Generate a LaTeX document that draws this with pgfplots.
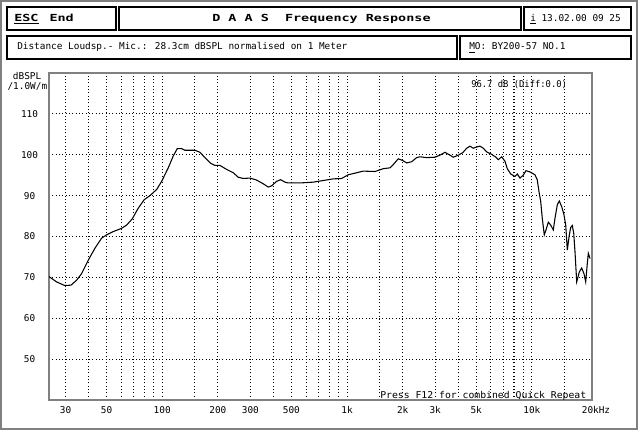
\documentclass[border=0pt]{standalone}
\usepackage{pgfplots}
\pgfplotsset{compat=1.18}
\usepackage{graphicx}
\usepackage{fontspec}
\setmainfont{DejaVu Sans Mono}
\newfontfamily\rmono{DejaVu Sans Mono}
\newcommand\rf{\rmono\fontsize{7.05}{8}\selectfont}
\newcommand\bff{\rmono\bfseries\fontsize{7.3}{8}\selectfont}

\pgfplotstableread{
f db
24.4 70.2
26.8 68.9
29.7 68.0
32.1 68.1
34.4 69.3
36.6 70.9
39.8 74.2
43.2 77.1
47.0 79.6
50.0 80.4
54.3 81.2
60.3 82.0
64.2 82.8
68.8 84.3
74.1 86.9
79.9 89.0
85.8 90.0
93.3 91.5
99.3 93.5
107.8 96.8
114.7 99.7
120.6 101.5
127.4 101.5
132.7 101.1
150.3 101.1
160.0 100.6
170.2 99.3
182.8 97.9
192.9 97.4
205.2 97.4
223.1 96.4
242.3 95.6
257.8 94.5
274.4 94.2
298.4 94.3
324.3 93.8
352.0 92.9
374.6 92.1
390.8 92.4
415.9 93.5
437.2 93.9
461.3 93.3
480.6 93.1
556.2 93.1
656.3 93.3
743.2 93.7
842 94.1
935 94.2
1015 95.1
1127 95.6
1224 96.0
1416 95.9
1571 96.6
1707 96.8
1778 97.6
1892 99.0
2000 98.6
2102 98.0
2237 98.3
2380 99.3
2480 99.5
2697 99.3
2990 99.4
3182 99.9
3387 100.6
3605 99.9
3756 99.4
3997 99.9
4223 100.5
4439 101.6
4624 102.1
4819 101.6
5027 101.9
5239 102.1
5458 101.6
5694 100.7
6060 100.1
6393 99.4
6579 98.8
6864 99.5
7152 98.4
7361 96.6
7680 95.3
8100 94.7
8337 95.3
8622 94.3
8985 95.0
9290 96.1
9766 95.8
10390 95.1
10690 93.9
10960 90.6
11160 88.6
11380 84.5
11670 80.4
11920 81.6
12270 83.5
12640 82.8
13060 81.6
13340 84.5
13730 87.8
14070 88.7
14500 87.3
14920 85.3
15240 82.8
15550 76.7
15940 80.4
16220 82.2
16540 82.7
16840 80.8
17110 76.3
17480 68.9
18050 71.3
18600 72.3
19140 70.9
19550 68.9
19950 73.4
20200 75.9
20630 74.6
}\resp

\begin{document}
\begin{tikzpicture}
\begin{scope}[x=0.75pt,y=-0.75pt]
\useasboundingbox (0,0) rectangle (640,431);
\fill[white] (0,0) rectangle (640,431);
\end{scope}

\begin{axis}[
  at={(36.75pt,-300pt)}, anchor=south west,
  width=407.25pt, height=245.25pt, scale only axis,
  xmode=log, xmin=24.4, xmax=21150, ymin=40, ymax=120,
  axis line style={black!50, line width=1.5pt},
  xtick={30,50,100,200,300,500,1000,2000,3000,5000,10000,20000},
  xticklabels={\mbox{30},\mbox{50},\mbox{100},\mbox{200},\mbox{300},\mbox{500},\mbox{1k},\mbox{2k},\mbox{3k},\mbox{5k},\mbox{10k},\mbox{20\rlap{kHz}}},
  minor xtick={30,40,50,60,70,80,90,100,150,200,300,400,500,600,700,800,900,1000,1500,2000,3000,4000,5000,6000,7000,8000,9000,10000,15000},
  xmajorgrids=false, xminorgrids=true,
  ytick={50,60,70,80,90,100,110},
  yticklabels={\mbox{50},\mbox{60},\mbox{70},\mbox{80},\mbox{90},\mbox{100},\mbox{110}},
  ymajorgrids=true,
  major tick length=0pt, minor tick length=0pt,
  grid style={black, line width=0.8pt, dash pattern=on 0.8pt off 1.7pt},
  minor grid style={black, line width=0.8pt, dash pattern=on 0.8pt off 1.7pt},
  xticklabel style={font=\rf, anchor=center, yshift=-7.3pt, inner sep=0pt},
  yticklabel style={font=\rf, anchor=center, xshift=-14.6pt, inner sep=0pt},
]
\addplot[black, line width=0.8pt, mark=none] table[x=f, y=db] {\resp};
\end{axis}

\begin{scope}[x=0.75pt,y=-0.75pt]
% outer frame
\draw[black!50, line width=1.5pt] (1,1) rectangle (637,429);
% header boxes
\draw[black, line width=1.5pt] (7,7) rectangle (116,30);
\draw[black, line width=1.5pt] (119,7) rectangle (521,30);
\draw[black, line width=1.5pt] (524,7) rectangle (631,30);
\draw[black, line width=1.5pt] (7,36) rectangle (457,59);
\draw[black, line width=1.5pt] (460,36) rectangle (631,59);
% header texts
\node[anchor=base west, inner sep=0pt] at (14,21.5) {\bff\scalebox{1.38}[1]{\underline{ESC}}};
\node[anchor=base west, inner sep=0pt] at (49.3,21.5) {\bff\scalebox{1.38}[1]{End}};
\node[anchor=base west, inner sep=0pt] at (212,21.5) {\bff\scalebox{1.38}[1]{D A A S~~Frequency Response}};
\node[anchor=base west, inner sep=0pt] at (530,21.7) {\rf\underline{i} 13.02.00 09 25};
\node[anchor=base west, inner sep=0pt] at (17,50) {\rf Distance Loudsp.- Mic.: 28.3cm dBSPL normalised on 1 Meter};
\node[anchor=base west, inner sep=0pt] at (469,50) {\rf\underline{M}O: BY200-57 NO.1};
% axis title
\node[anchor=base west, inner sep=0pt] at (12.7,79.5) {\rf dBSPL};
\node[anchor=base west, inner sep=0pt] at (7.3,89.5) {\rf /1.0W/m};
% annotations
\node[anchor=base west, inner sep=0pt] at (471,88) {\rf\scalebox{0.94}[1]{96.7 dB (Diff:0.0)}};
\node[anchor=base west, inner sep=0pt] at (380,398) {\rf\scalebox{1.04}[1]{Press F12 for combined Quick Repeat}};
\end{scope}
\end{tikzpicture}
\end{document}
